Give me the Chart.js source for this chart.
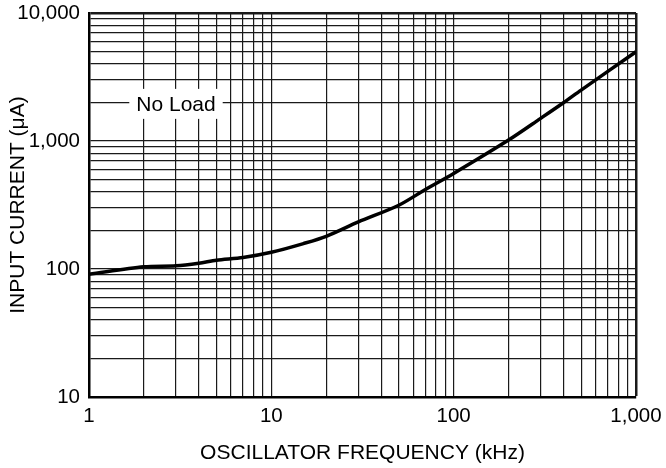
<!DOCTYPE html>
<html>
<head>
<meta charset="utf-8">
<script src="https://cdn.jsdelivr.net/npm/chart.js@4/dist/chart.umd.min.js"></script>
<style>
  body { margin: 0; background: #fff; }
  #wrap { width: 666px; height: 468px; }
</style>
</head>
<body>
<div id="wrap"><canvas id="chart"></canvas></div>
<script>
// Oscillator frequency (kHz) vs input current (uA), no load
const frequencies = [1, 2, 3, 4, 5, 7, 10, 15, 20, 30, 50, 70, 100, 200, 300, 400, 500, 1000];
const currents = [91, 104, 106, 111, 117, 123, 135, 158, 180, 233, 315, 418, 558, 1017, 1503, 1990, 2500, 4980];

const xTickLabels = [1, 10, 100, 1000];
const yTickLabels = [10, 100, 1000, 10000];

const curveLabel = "No Load";
const curveLabelAt = { x: 3, y: 1950 };

const fontFamily = "'Liberation Sans', Arial, Helvetica, sans-serif";

// 1,2,...,9,10,20,... grid steps for a log axis
decadeTicks = (min, max) => {
  const ticks = [];
  for (let p = min; p < max; p *= 10) {
    for (let m = 1; m < 10; m++) ticks.push({ value: m * p });
  }
  ticks.push({ value: max });
  return ticks;
};

const labelPlugin = {
  id: "curveLabel",
  afterDatasetsDraw(chart) {
    const ctx = chart.ctx;
    const x = chart.scales.x.getPixelForValue(curveLabelAt.x);
    const y = chart.scales.y.getPixelForValue(curveLabelAt.y);
    ctx.save();
    ctx.font = "21px " + fontFamily;
    const w = ctx.measureText(curveLabel).width + 14;
    ctx.fillStyle = "#fff";
    ctx.fillRect(x - w / 2, y - 15, w, 30);
    ctx.fillStyle = "#000";
    ctx.textAlign = "center";
    ctx.textBaseline = "middle";
    ctx.fillText(curveLabel, x, y + 1);
    ctx.restore();
  },
};

const ctx = document.getElementById("chart").getContext("2d");
new Chart(ctx, {
  type: "line",
  data: {
    datasets: [
      {
        label: curveLabel,
        data: frequencies.map((f, i) => ({ x: f, y: currents[i] })),
        borderColor: "#000",
        borderWidth: 3.5,
        pointRadius: 0,
        fill: false,
        tension: 0.3,
      },
    ],
  },
  options: {
    responsive: true,
    maintainAspectRatio: false,
    animation: false,
    layout: { padding: { top: 13, right: 30, left: 0, bottom: 0 } },
    plugins: {
      legend: { display: false },
      tooltip: { enabled: false },
    },
    scales: {
      x: {
        type: "logarithmic",
        min: 1,
        max: 1000,
        afterBuildTicks: (scale) => {
          scale.ticks = decadeTicks(1, 1000);
        },
        afterFit: (scale) => {
          scale.height = 71;
          scale.paddingLeft = 0;
          scale.paddingRight = 0;
        },
        ticks: {
          autoSkip: false,
          maxRotation: 0,
          padding: 7,
          color: "#000",
          font: { family: fontFamily, size: 20.5 },
          callback: (value) =>
            xTickLabels.includes(value) ? value.toLocaleString("en-US") : "",
        },
        grid: {
          drawTicks: false,
          color: "#1a1a1a",
          lineWidth: (c) => (c.tick && c.tick.value === 1000 ? 2.5 : 1.2),
        },
        border: { display: true, color: "#000", width: 2.5 },
        title: {
          display: true,
          text: "OSCILLATOR FREQUENCY (kHz)",
          color: "#000",
          font: { family: fontFamily, size: 21 },
          padding: { top: 0, bottom: 2 },
        },
      },
      y: {
        type: "logarithmic",
        min: 10,
        max: 10000,
        afterBuildTicks: (scale) => {
          scale.ticks = decadeTicks(10, 10000);
        },
        afterFit: (scale) => {
          scale.width = 89;
          scale.paddingTop = 0;
          scale.paddingBottom = 0;
        },
        ticks: {
          autoSkip: false,
          padding: 9,
          color: "#000",
          font: { family: fontFamily, size: 20.5 },
          callback: (value) =>
            yTickLabels.includes(value) ? value.toLocaleString("en-US") : "",
        },
        grid: {
          drawTicks: false,
          color: "#1a1a1a",
          lineWidth: (c) => (c.tick && c.tick.value === 10000 ? 2.5 : 1.2),
        },
        border: { display: true, color: "#000", width: 2.5 },
        title: {
          display: true,
          text: "INPUT CURRENT (μA)",
          color: "#000",
          font: { family: fontFamily, size: 21 },
          padding: { top: 6, bottom: 0 },
        },
      },
    },
  },
  plugins: [labelPlugin],
});
</script>
</body>
</html>
